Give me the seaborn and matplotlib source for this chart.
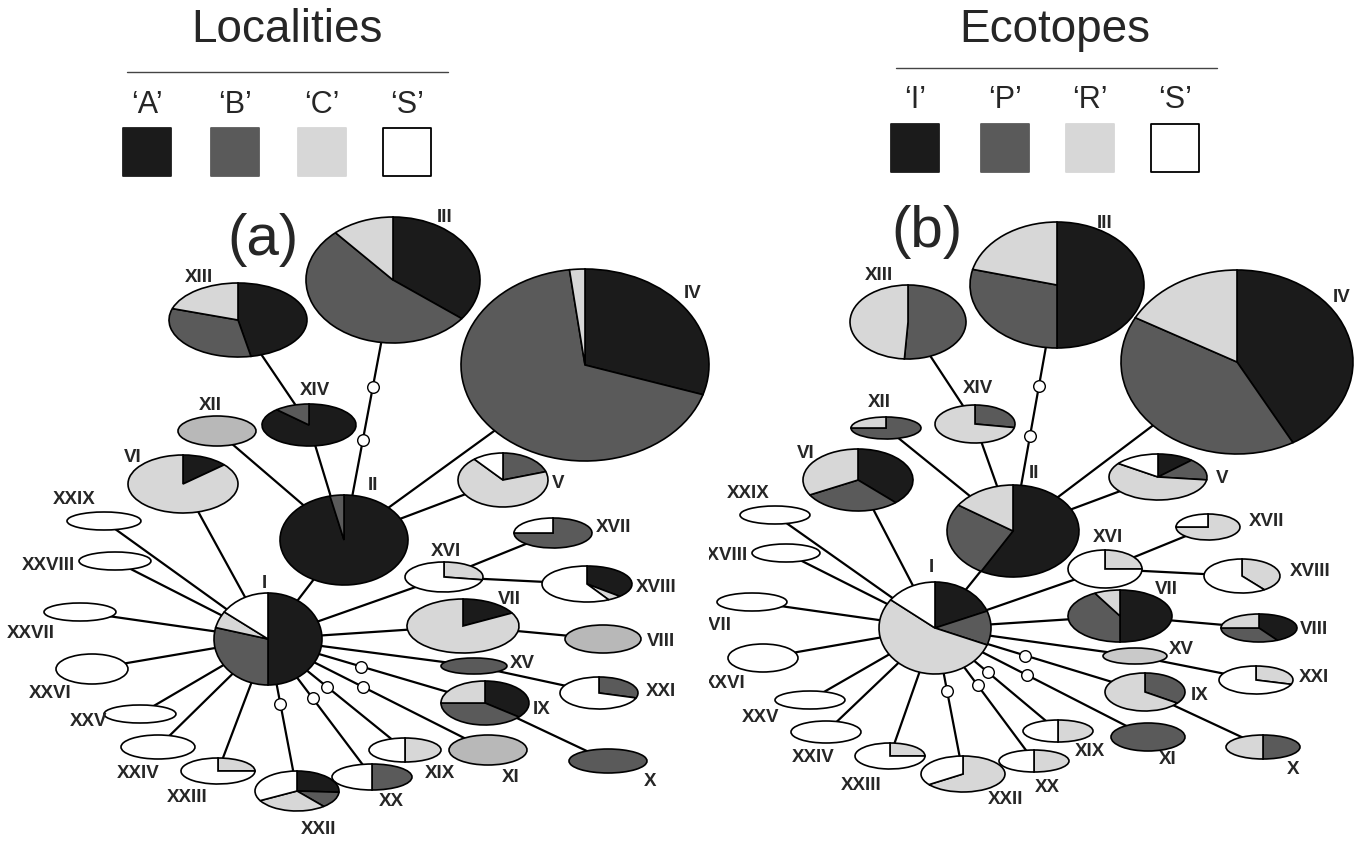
import numpy as np
import pandas as pd
import matplotlib
matplotlib.use('Agg')
import matplotlib.pyplot as plt
from matplotlib.transforms import Affine2D
from matplotlib.patches import Rectangle
import seaborn as sns

sns.set_theme(style='white')
plt.rcParams['font.family'] = ['Liberation Sans', 'DejaVu Sans']

# haplotype frequencies (share of each haplotype per category)
haplotypes = ['I', 'II', 'III', 'IV', 'V', 'VI', 'VII', 'VIII', 'IX', 'X',
              'XI', 'XII', 'XIII', 'XIV', 'XV', 'XVI', 'XVII', 'XVIII', 'XIX', 'XX',
              'XXI', 'XXII', 'XXIII', 'XXIV', 'XXV', 'XXVI', 'XXVII', 'XXVIII', 'XXIX']

# localities
loc_A = [0.50, 0.965, 0.355, 0.30, 0, 0.135, 0.17, 0, 0.36, 0,
         0, 0, 0.47, 0.88, 0, 0, 0, 0.37, 0, 0,
         0, 0.26, 0, 0, 0, 0, 0, 0, 0]
loc_B = [0.29, 0.035, 0.53, 0.68, 0.20, 0, 0, 0, 0.39, 1,
         0, 0, 0.33, 0.12, 1, 0, 0.75, 0, 0, 0.5,
         0.30, 0.13, 0, 0, 0, 0, 0, 0, 0]
loc_C = [0.06, 0, 0.115, 0.02, 0.69, 0.865, 0.83, 1, 0.25, 0,
         1, 1, 0.20, 0, 0, 0.28, 0, 0.05, 0.5, 0,
         0, 0.28, 0.25, 0, 0, 0, 0, 0, 0]
loc_S = [0.15, 0, 0, 0, 0.11, 0, 0, 0, 0, 0,
         0, 0, 0, 0, 0, 0.72, 0.25, 0.58, 0.5, 0.5,
         0.70, 0.33, 0.75, 1, 1, 1, 1, 1, 1]

# ecotopes
eco_I = [0.19, 0.58, 0.50, 0.42, 0.12, 0.38, 0.50, 0.42, 0, 0,
         0, 0, 0, 0, 0, 0, 0, 0, 0, 0,
         0, 0, 0, 0, 0, 0, 0, 0, 0]
eco_P = [0.12, 0.265, 0.29, 0.41, 0.15, 0.29, 0.42, 0.33, 0.35, 0.5,
         1, 0.75, 0.51, 0.28, 0, 0, 0, 0, 0, 0,
         0, 0, 0, 0, 0, 0, 0, 0, 0]
eco_R = [0.545, 0.155, 0.21, 0.17, 0.58, 0.33, 0.08, 0.25, 0.65, 0.5,
         0, 0.25, 0.49, 0.72, 1, 0.25, 0.75, 0.40, 0.5, 0.5,
         0.30, 0.65, 0.25, 0, 0, 0, 0, 0, 0]
eco_S = [0.145, 0, 0, 0, 0.15, 0, 0, 0, 0, 0,
         0, 0, 0, 0, 0, 0.75, 0.25, 0.60, 0.5, 0.5,
         0.70, 0.35, 0.75, 1, 1, 1, 1, 1, 1]

# network links: (from, to, number of median vectors on the link)
links = [('III', 'II', 2), ('XIII', 'XIV', 0), ('XIV', 'II', 0), ('XII', 'II', 0),
         ('IV', 'II', 0), ('V', 'II', 0), ('II', 'I', 0), ('VI', 'I', 0),
         ('XVI', 'I', 0), ('XVI', 'XVII', 0), ('XVI', 'XVIII', 0), ('VII', 'I', 0),
         ('VII', 'VIII', 0), ('XV', 'I', 0), ('XV', 'XXI', 0), ('IX', 'I', 1),
         ('IX', 'X', 0), ('XI', 'I', 1), ('XIX', 'I', 1), ('XX', 'I', 1),
         ('XXII', 'I', 1), ('XXIII', 'I', 0), ('XXIV', 'I', 0), ('XXV', 'I', 0),
         ('XXVI', 'I', 0), ('XXVII', 'I', 0), ('XXVIII', 'I', 0), ('XXIX', 'I', 0)]

# layout in pixels (cx, cy, rx, ry, label x, label y), y measured from the top
layout_a = {
    'I': (268, 639, 54, 46, 264, 583), 'II': (344, 540, 64, 45, 373, 485),
    'III': (393, 280, 87, 63, 445, 217), 'IV': (585, 365, 124, 96, 693, 293),
    'V': (503, 480, 45, 27, 558, 483), 'VI': (183, 484, 55, 29, 133, 457),
    'VII': (463, 626, 56, 27, 509, 600), 'VIII': (603, 639, 38, 14, 661, 642),
    'IX': (485, 703, 44, 22, 542, 710), 'X': (608, 761, 39, 12, 650, 782),
    'XI': (488, 750, 39, 15, 511, 777), 'XII': (217, 431, 39, 15, 210, 405),
    'XIII': (238, 320, 69, 37, 199, 277), 'XIV': (309, 425, 47, 21, 315, 390),
    'XV': (474, 666, 33, 8, 522, 663), 'XVI': (444, 577, 39, 15, 446, 552),
    'XVII': (553, 533, 39, 15, 614, 528), 'XVIII': (587, 584, 45, 18, 656, 588),
    'XIX': (405, 750, 36, 12, 440, 773), 'XX': (372, 777, 40, 13, 391, 802),
    'XXI': (599, 693, 39, 16, 661, 692), 'XXII': (297, 791, 42, 20, 319, 830),
    'XXIII': (218, 771, 37, 13, 187, 798), 'XXIV': (158, 747, 37, 12, 138, 773),
    'XXV': (140, 714, 36, 9, 89, 722), 'XXVI': (92, 669, 36, 15, 50, 693),
    'XXVII': (80, 612, 36, 9, 31, 633), 'XXVIII': (115, 561, 36, 9, 48, 565),
    'XXIX': (104, 521, 37, 9, 74, 499),
}
layout_b = {
    'I': (935, 628, 56, 46, 931, 568), 'II': (1013, 531, 66, 46, 1034, 473),
    'III': (1057, 285, 87, 63, 1105, 223), 'IV': (1237, 362, 116, 92, 1342, 297),
    'V': (1158, 477, 49, 23, 1222, 478), 'VI': (858, 480, 55, 31, 806, 453),
    'VII': (1120, 616, 52, 26, 1166, 590), 'VIII': (1259, 628, 38, 14, 1314, 630),
    'IX': (1145, 692, 40, 19, 1200, 695), 'X': (1263, 747, 37, 12, 1293, 770),
    'XI': (1148, 737, 37, 14, 1168, 760), 'XII': (886, 428, 35, 11, 879, 402),
    'XIII': (908, 322, 58, 37, 879, 275), 'XIV': (975, 424, 40, 19, 978, 388),
    'XV': (1135, 656, 32, 8, 1181, 650), 'XVI': (1105, 569, 37, 19, 1108, 538),
    'XVII': (1208, 527, 32, 13, 1267, 522), 'XVIII': (1242, 576, 38, 17, 1310, 571),
    'XIX': (1058, 731, 35, 11, 1090, 752), 'XX': (1034, 761, 35, 11, 1047, 788),
    'XXI': (1256, 680, 37, 14, 1314, 678), 'XXII': (963, 774, 42, 18, 1006, 800),
    'XXIII': (890, 756, 35, 13, 861, 785), 'XXIV': (826, 732, 35, 11, 813, 757),
    'XXV': (810, 700, 35, 9, 761, 717), 'XXVI': (763, 658, 35, 14, 724, 684),
    'XXVII': (752, 602, 35, 9, 708, 625), 'XXVIII': (786, 553, 34, 9, 721, 555),
    'XXIX': (775, 515, 35, 9, 748, 493),
}

W, H = 1365, 841
shades = ['#1b1b1b', '#5a5a5a', '#d7d7d7', '#ffffff']
solid_light = {'a': {'VIII': '#b8b8b8', 'XI': '#b8b8b8', 'XII': '#b8b8b8'},
               'b': {'XV': '#c9c9c9'}}

df_loc = pd.DataFrame({'A': loc_A, 'B': loc_B, 'C': loc_C, 'S': loc_S}, index=haplotypes)
df_eco = pd.DataFrame({'I': eco_I, 'P': eco_P, 'R': eco_R, 'S': eco_S}, index=haplotypes)

fig = plt.figure(figsize=(W / 100, H / 100), dpi=100)
ax = fig.add_axes([0, 0, 1, 1])


def draw_pie(fracs, cols, cx, cy, rx, ry):
    keep = [(f, c) for f, c in zip(fracs, cols) if f > 0]
    wedges, _ = ax.pie([f for f, _ in keep], colors=[c for _, c in keep],
                       startangle=90, counterclock=False, center=(cx, cy),
                       radius=rx, normalize=True,
                       wedgeprops=dict(edgecolor='black', linewidth=1.2))
    squash = Affine2D().translate(-cx, -cy).scale(1, ry / rx).translate(cx, cy) + ax.transData
    for w in wedges:
        w.set_transform(squash)
        w.set_zorder(3)


def draw_network(df, layout, panel, clip=None):
    # links and median vectors
    for a, b, nmed in links:
        xa, ya = layout[a][0], H - layout[a][1]
        xb, yb = layout[b][0], H - layout[b][1]
        ax.plot([xa, xb], [ya, yb], color='black', lw=1.6, zorder=1,
                solid_capstyle='butt')
        ts = {1: [0.57], 2: [0.41, 0.615]}.get(nmed, [])
        for t in ts:
            ax.scatter(xa + t * (xb - xa), ya + t * (yb - ya), s=70, marker='o',
                       facecolor='white', edgecolor='black', linewidths=1.0, zorder=4)
    # haplotype pies
    for name in haplotypes:
        cx, cy, rx, ry, lx, ly = layout[name]
        cols = list(shades)
        if name in solid_light[panel]:
            cols[2] = solid_light[panel][name]
        draw_pie(df.loc[name].values, cols, cx, H - cy, rx, ry)
        t = ax.text(lx, H - ly, name, ha='center', va='center', fontsize=13.5,
                    fontweight='bold', zorder=5)
        if clip is not None:
            t.set_clip_path(clip)
            t.set_clip_on(True)


def draw_legend(title, cats, tx, line_x, line_y, sq_x, lab_y, sq_y):
    ax.text(tx, H - 30, title, ha='center', va='center', fontsize=33)
    ax.plot(line_x, [H - line_y, H - line_y], color='#444444', lw=1.0)
    for x, c, col in zip(sq_x, cats, shades):
        ax.text(x, H - lab_y, '\u2018' + c + '\u2019', ha='center', va='center', fontsize=22)
    ax.scatter(sq_x, [H - sq_y] * 4, marker='s', s=1150, c=shades,
               edgecolors=[shades[0], shades[1], shades[2], 'black'], linewidths=1.3)


clip_b = Rectangle((709, 0), W, H, transform=ax.transData)

draw_network(df_loc, layout_a, 'a')
draw_network(df_eco, layout_b, 'b', clip=clip_b)

draw_legend('Localities', list(df_loc.columns), 287, [127, 448], 72,
            [147, 235, 322, 407], 105, 152)
draw_legend('Ecotopes', list(df_eco.columns), 1055, [896, 1217], 68,
            [915, 1005, 1090, 1175], 100, 148)

ax.text(263, H - 240, '(a)', ha='center', va='center', fontsize=42)
ax.text(927, H - 232, '(b)', ha='center', va='center', fontsize=42)

ax.set_xlim(0, W)
ax.set_ylim(0, H)
ax.set_aspect('auto')
ax.axis('off')
fig.savefig('out.png', dpi=100, facecolor='white')
